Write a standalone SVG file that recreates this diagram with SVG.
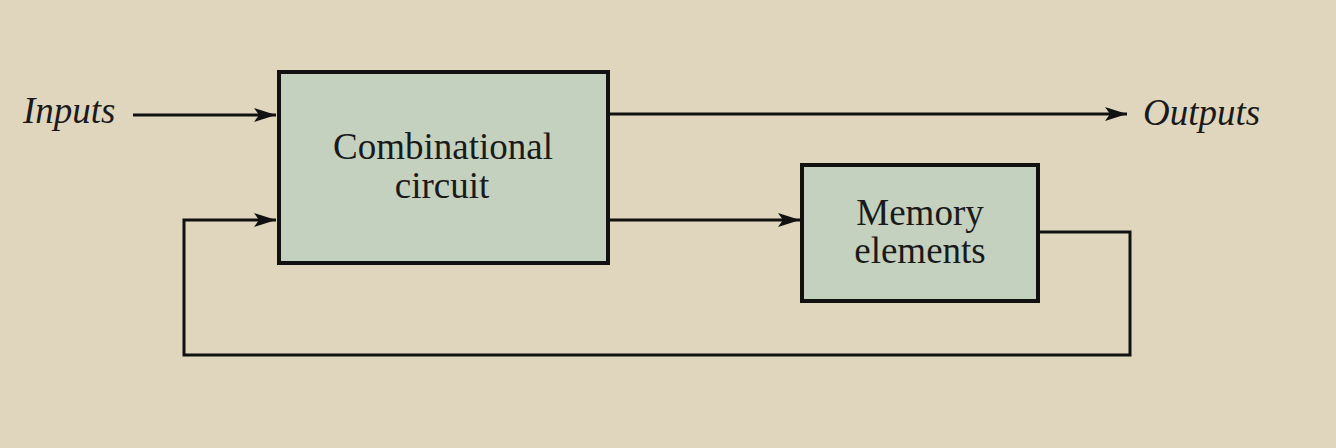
<svg xmlns="http://www.w3.org/2000/svg" width="1336" height="448" viewBox="0 0 1336 448">
<style>
.box{fill:#c4d1bf;stroke:#111;stroke-width:4}
.ln{fill:none;stroke:#111;stroke-width:3}
.t{font-family:"Liberation Serif","Times New Roman",serif;font-size:37px;fill:#1a1a1a;text-anchor:middle}
.ti{font-family:"Liberation Serif","Times New Roman",serif;font-size:37px;font-style:italic;fill:#1a1a1a}
</style>
<defs>
<marker id="ah" markerWidth="24" markerHeight="18" refX="22" refY="9" orient="auto" markerUnits="userSpaceOnUse">
<path d="M0,2 L22,9 L0,16 L5,9 Z" fill="#111"/>
</marker>
</defs>
<rect width="1336" height="448" fill="#dfd6bd"/>
<g id="connectors">
<line class="ln" x1="133" y1="115" x2="276" y2="115" marker-end="url(#ah)"/>
<line class="ln" x1="608" y1="114" x2="1127" y2="114" marker-end="url(#ah)"/>
<line class="ln" x1="608" y1="220" x2="800" y2="220" marker-end="url(#ah)"/>
<polyline class="ln" points="1038,232 1130,232 1130,355 184,355 184,220 276,220" marker-end="url(#ah)"/>
</g>
<g id="comb">
<rect class="box" x="279" y="72" width="329" height="191"/>
<text class="t" x="443" y="159">Combinational</text>
<text class="t" x="442" y="198">circuit</text>
</g>
<g id="mem">
<rect class="box" x="802" y="165" width="236" height="136"/>
<text class="t" x="920" y="225">Memory</text>
<text class="t" x="920" y="263">elements</text>
</g>
<g id="inputs"><text class="ti" x="23" y="123">Inputs</text></g>
<g id="outputs"><text class="ti" x="1143" y="125">Outputs</text></g>
</svg>
